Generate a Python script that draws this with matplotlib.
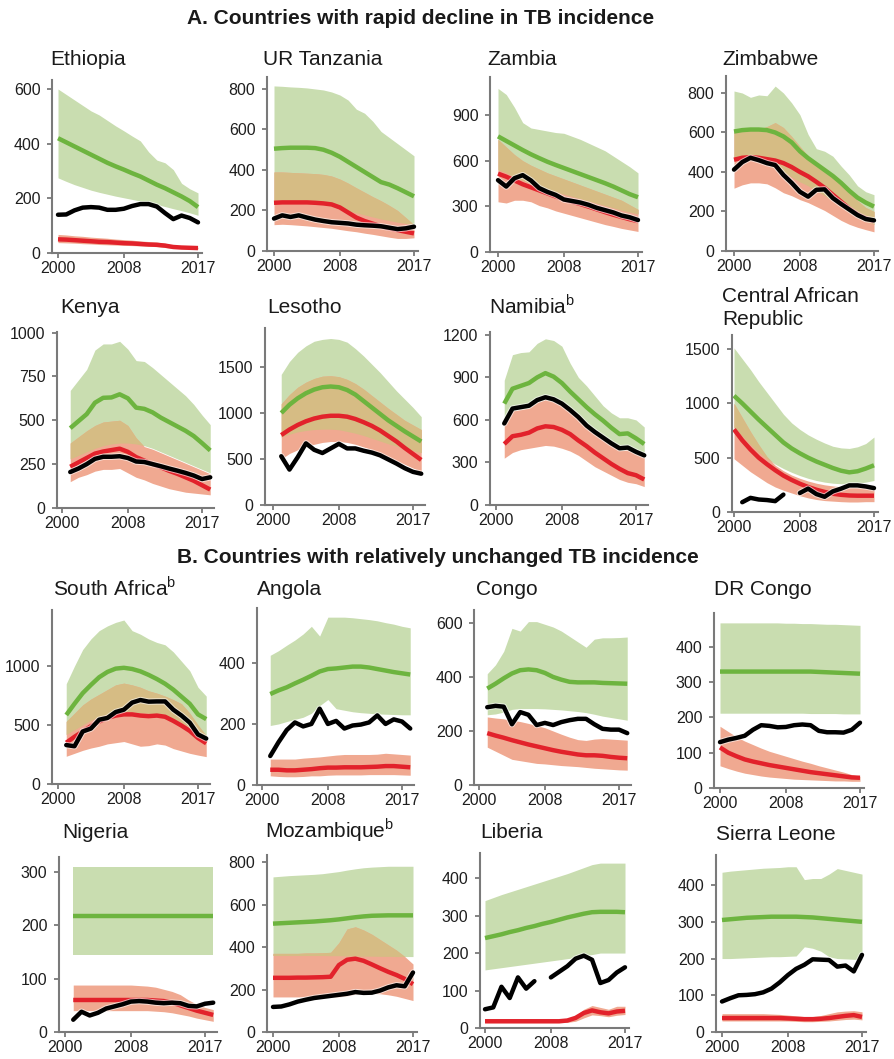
import numpy as np
import matplotlib
matplotlib.use('Agg')
from matplotlib import pyplot as plt
import matplotlib.patheffects as pe

plt.rcParams['font.family'] = ['Liberation Sans', 'DejaVu Sans']
plt.rcParams['mathtext.fontset'] = 'custom'
plt.rcParams['mathtext.rm'] = 'Liberation Sans'

nan = np.nan

# inc = WHO incidence estimate (green), est = alternative estimate (red), notif = notifications (black)
# values per 100 000, yearly

eth_inc = [420, 405, 390, 375, 360, 345, 330, 317, 305, 292, 280, 265, 250, 237, 222, 207, 190, 168]
eth_inc_lo = [275, 262, 250, 240, 230, 222, 215, 208, 202, 196, 190, 183, 177, 170, 162, 155, 147, 138]
eth_inc_hi = [600, 580, 560, 540, 520, 505, 485, 465, 447, 428, 410, 370, 340, 330, 305, 255, 235, 220]
eth_est = [50, 49, 47, 45, 43, 41, 40, 38, 36, 35, 33, 31, 30, 27, 22, 20, 19, 18]
eth_est_lo = [38, 37, 36, 34, 33, 31, 30, 29, 28, 27, 26, 25, 23, 20, 17, 16, 15, 15]
eth_est_hi = [68, 66, 63, 61, 58, 56, 54, 51, 49, 47, 44, 42, 40, 36, 28, 24, 22, 21]
eth_notif = [140, 141, 156, 166, 168, 166, 158, 158, 162, 172, 179, 179, 170, 146, 124, 137, 128, 112]

tza_inc = [505, 508, 510, 510, 510, 508, 500, 485, 465, 440, 415, 390, 365, 340, 328, 310, 290, 270]
tza_inc_lo = [250, 250, 248, 245, 240, 235, 228, 220, 210, 198, 188, 178, 168, 158, 150, 142, 136, 130]
tza_inc_hi = [815, 813, 810, 808, 805, 800, 795, 785, 770, 745, 700, 680, 640, 590, 560, 530, 500, 470]
tza_est = [238, 240, 240, 240, 240, 238, 235, 230, 215, 190, 165, 148, 135, 122, 112, 103, 95, 87]
tza_est_lo = [130, 132, 130, 127, 124, 120, 116, 112, 106, 100, 95, 88, 82, 75, 68, 62, 62, 65]
tza_est_hi = [390, 390, 388, 386, 384, 382, 378, 370, 355, 335, 312, 290, 268, 248, 225, 200, 165, 130]
tza_notif = [160, 176, 168, 176, 165, 155, 148, 142, 139, 136, 130, 127, 125, 122, 115, 108, 112, 120]

zmb_inc = [760, 730, 700, 670, 642, 617, 593, 572, 552, 532, 512, 492, 472, 452, 430, 405, 380, 360]
zmb_inc_lo = [540, 520, 490, 470, 450, 430, 410, 395, 380, 365, 350, 335, 320, 305, 290, 275, 262, 250]
zmb_inc_hi = [1075, 1035, 950, 850, 815, 805, 795, 785, 780, 760, 740, 715, 690, 665, 630, 595, 560, 520]
zmb_est = [515, 495, 470, 445, 425, 405, 385, 365, 345, 330, 315, 298, 280, 262, 245, 230, 215, 203]
zmb_est_lo = [330, 322, 340, 340, 330, 305, 290, 270, 255, 240, 225, 210, 195, 180, 168, 155, 145, 135]
zmb_est_hi = [740, 690, 640, 600, 570, 545, 520, 500, 480, 460, 440, 420, 400, 380, 360, 340, 310, 280]
zmb_notif = [472, 430, 485, 505, 470, 420, 395, 375, 345, 335, 325, 310, 290, 275, 260, 240, 228, 210]

zwe_inc = [605, 612, 615, 615, 612, 600, 580, 550, 505, 470, 440, 410, 380, 345, 305, 270, 245, 225]
zwe_inc_lo = [470, 480, 470, 460, 440, 420, 400, 375, 350, 330, 305, 280, 255, 225, 195, 170, 150, 135]
zwe_inc_hi = [810, 800, 778, 790, 786, 835, 800, 750, 690, 590, 518, 505, 480, 430, 385, 330, 300, 285]
zwe_est = [462, 472, 475, 472, 465, 458, 445, 425, 400, 378, 350, 320, 285, 250, 215, 185, 165, 150]
zwe_est_lo = [318, 335, 345, 345, 340, 320, 295, 280, 260, 245, 225, 205, 180, 155, 135, 120, 108, 97]
zwe_est_hi = [600, 605, 610, 615, 630, 650, 625, 580, 530, 480, 440, 405, 370, 335, 295, 255, 220, 200]
zwe_notif = [412, 450, 472, 460, 445, 435, 385, 345, 300, 275, 310, 312, 268, 238, 210, 182, 162, 155]

ken_inc = [455, 495, 535, 600, 628, 630, 648, 625, 572, 565, 545, 515, 490, 465, 440, 410, 370, 328]
ken_inc_lo = [280, 300, 320, 340, 355, 365, 370, 370, 365, 355, 340, 320, 300, 280, 260, 240, 220, 200]
ken_inc_hi = [670, 730, 790, 900, 935, 935, 950, 905, 840, 835, 800, 760, 720, 680, 640, 590, 530, 475]
ken_est = [235, 260, 285, 310, 322, 330, 338, 320, 290, 270, 250, 232, 212, 195, 175, 155, 130, 105]
ken_est_lo = [150, 175, 190, 210, 220, 220, 225, 200, 175, 160, 140, 125, 110, 100, 90, 85, 80, 75]
ken_est_hi = [370, 405, 440, 470, 490, 495, 500, 470, 400, 350, 335, 315, 295, 275, 255, 235, 215, 195]
ken_notif = [205, 225, 250, 280, 292, 292, 295, 285, 265, 262, 250, 238, 225, 213, 200, 185, 165, 175]

lso_inc = [1000, 1090, 1160, 1215, 1255, 1280, 1288, 1280, 1250, 1200, 1130, 1060, 990, 920, 860, 800, 745, 690]
lso_inc_lo = [740, 770, 795, 810, 820, 825, 825, 818, 800, 780, 755, 725, 695, 665, 640, 615, 590, 570]
lso_inc_hi = [1420, 1560, 1660, 1730, 1780, 1800, 1810, 1800, 1770, 1700, 1620, 1530, 1440, 1340, 1240, 1150, 1060, 960]
lso_est = [760, 820, 870, 910, 940, 960, 970, 970, 960, 935, 900, 860, 810, 750, 690, 620, 555, 490]
lso_est_lo = [500, 560, 600, 640, 660, 680, 690, 690, 680, 660, 630, 600, 560, 520, 480, 440, 400, 360]
lso_est_hi = [1100, 1200, 1280, 1335, 1375, 1400, 1405, 1395, 1365, 1320, 1260, 1190, 1120, 1050, 985, 920, 870, 820]
lso_notif = [530, 385, 520, 670, 600, 565, 615, 665, 615, 615, 590, 570, 540, 495, 450, 400, 360, 340]

nam_inc = [715, 820, 840, 860, 900, 930, 905, 860, 800, 745, 690, 640, 595, 545, 500, 505, 470, 430]
nam_inc_lo = [560, 665, 675, 685, 725, 745, 730, 700, 655, 605, 545, 500, 460, 420, 385, 390, 360, 335]
nam_inc_hi = [880, 1060, 1075, 1080, 1140, 1172, 1160, 1120, 1000, 900, 840, 770, 700, 650, 615, 615, 600, 550]
nam_est = [430, 485, 495, 510, 540, 555, 550, 530, 500, 455, 415, 370, 330, 290, 255, 225, 210, 180]
nam_est_lo = [330, 370, 390, 400, 410, 420, 415, 400, 380, 350, 310, 270, 240, 210, 180, 160, 150, 130]
nam_est_hi = [560, 665, 675, 685, 725, 745, 730, 700, 655, 605, 545, 500, 460, 420, 385, 390, 360, 335]
nam_notif = [575, 680, 690, 700, 740, 760, 745, 715, 670, 620, 560, 515, 475, 435, 400, 405, 375, 350]

caf_inc = [1070, 1000, 925, 850, 780, 710, 640, 585, 540, 500, 465, 435, 405, 380, 365, 375, 400, 430]
caf_inc_lo = [780, 700, 620, 550, 490, 440, 400, 365, 335, 310, 290, 275, 265, 260, 262, 265, 275, 290]
caf_inc_hi = [1510, 1410, 1310, 1200, 1100, 1000, 900, 820, 760, 710, 670, 635, 605, 590, 585, 600, 630, 690]
caf_est = [760, 660, 575, 500, 440, 385, 335, 295, 260, 230, 205, 185, 168, 158, 152, 150, 150, 150]
caf_est_lo = [490, 430, 370, 320, 270, 230, 200, 175, 150, 130, 115, 105, 100, 95, 92, 92, 95, 95]
caf_est_hi = [1000, 870, 740, 620, 510, 430, 380, 340, 310, 285, 265, 250, 240, 232, 228, 228, 230, 232]
caf_notif = [nan, 90, 130, 115, 110, 100, 160, nan, 175, 215, 165, 140, 190, 215, 245, 245, 235, 220]

zaf_inc = [585, 680, 770, 840, 905, 950, 978, 985, 975, 955, 925, 890, 850, 800, 740, 680, 590, 550]
zaf_inc_lo = [420, 460, 500, 540, 570, 590, 600, 610, 610, 605, 600, 590, 575, 550, 520, 480, 430, 400]
zaf_inc_hi = [850, 1000, 1140, 1230, 1300, 1340, 1370, 1390, 1300, 1270, 1230, 1200, 1180, 1120, 1040, 960, 820, 745]
zaf_est = [350, 400, 445, 490, 530, 560, 580, 590, 590, 580, 575, 580, 570, 535, 495, 450, 390, 345]
zaf_est_lo = [235, 260, 285, 305, 320, 340, 350, 360, 340, 320, 325, 340, 330, 300, 280, 260, 245, 232]
zaf_est_hi = [530, 600, 670, 720, 760, 800, 840, 855, 840, 820, 790, 770, 745, 715, 680, 600, 500, 410]
zaf_notif = [330, 320, 445, 470, 545, 560, 610, 630, 690, 712, 698, 700, 700, 630, 580, 520, 420, 385]

ago_inc = [298, 310, 320, 333, 345, 358, 372, 380, 382, 385, 388, 388, 385, 380, 375, 370, 366, 362]
ago_inc_lo = [195, 200, 208, 215, 222, 235, 260, 280, 250, 245, 240, 237, 235, 233, 232, 231, 230, 230]
ago_inc_hi = [425, 440, 458, 475, 495, 520, 488, 550, 550, 550, 548, 545, 542, 538, 532, 527, 520, 515]
ago_est = [50, 50, 48, 48, 50, 52, 55, 57, 57, 58, 58, 58, 59, 60, 62, 62, 60, 58]
ago_est_lo = [30, 28, 27, 27, 28, 30, 30, 32, 33, 33, 33, 33, 34, 34, 34, 34, 33, 32]
ago_est_hi = [85, 85, 85, 85, 88, 90, 92, 95, 98, 100, 100, 100, 100, 101, 104, 102, 100, 98]
ago_notif = [95, 140, 180, 205, 192, 200, 250, 200, 210, 185, 195, 198, 205, 228, 200, 215, 208, 185]

cog_inc = [357, 375, 395, 413, 425, 428, 425, 415, 400, 390, 382, 380, 380, 380, 378, 377, 376, 375]
cog_inc_lo = [260, 263, 270, 280, 283, 283, 283, 282, 280, 278, 275, 272, 268, 262, 255, 250, 245, 240]
cog_inc_hi = [412, 445, 495, 580, 570, 605, 605, 595, 585, 570, 550, 530, 510, 540, 545, 545, 546, 548]
cog_est = [192, 183, 175, 166, 158, 150, 143, 136, 129, 123, 118, 113, 110, 110, 108, 104, 101, 99]
cog_est_lo = [140, 125, 110, 95, 90, 85, 80, 78, 75, 72, 70, 68, 65, 62, 60, 58, 56, 55]
cog_est_hi = [252, 248, 245, 240, 235, 228, 220, 212, 200, 188, 177, 168, 165, 170, 172, 170, 168, 166]
cog_notif = [288, 293, 290, 225, 270, 260, 222, 230, 222, 233, 240, 245, 245, 225, 208, 205, 205, 192]

cod_inc = [330, 330, 330, 330, 330, 330, 330, 330, 330, 330, 330, 330, 329, 328, 327, 326, 325, 324]
cod_inc_lo = [212, 212, 212, 212, 212, 212, 212, 212, 212, 212, 212, 211, 211, 211, 211, 210, 210, 210]
cod_inc_hi = [468, 468, 468, 468, 468, 468, 468, 468, 467, 467, 466, 466, 465, 464, 464, 463, 462, 461]
cod_est = [115, 100, 90, 81, 75, 70, 65, 61, 57, 53, 49, 45, 42, 39, 36, 33, 30, 29]
cod_est_lo = [63, 55, 48, 42, 38, 34, 31, 29, 27, 25, 24, 23, 22, 21, 20, 20, 19, 19]
cod_est_hi = [175, 160, 145, 133, 123, 113, 104, 97, 90, 83, 76, 70, 63, 57, 51, 45, 38, 33]
cod_notif = [130, 137, 142, 148, 165, 178, 176, 172, 173, 178, 180, 178, 162, 158, 158, 157, 165, 185]

nga_inc = [218, 218, 218, 218, 218, 218, 218, 218, 218, 218, 218, 218, 218, 218, 218, 218, 218, 218]
nga_inc_lo = [145, 145, 145, 145, 145, 145, 145, 145, 145, 145, 145, 145, 145, 145, 145, 145, 145, 145]
nga_inc_hi = [310, 310, 310, 310, 310, 310, 310, 310, 310, 310, 310, 310, 310, 310, 310, 310, 310, 310]
nga_est = [60, 60, 60, 60, 60, 60, 60, 60, 60, 60, 59, 58, 55, 50, 45, 40, 36, 32]
nga_est_lo = [40, 40, 40, 40, 40, 40, 40, 40, 40, 40, 39, 38, 36, 33, 30, 26, 23, 20]
nga_est_hi = [88, 88, 88, 88, 88, 88, 88, 88, 87, 86, 84, 80, 76, 70, 60, 52, 46, 42]
nga_notif = [23, 38, 31, 36, 44, 48, 52, 57, 58, 57, 55, 54, 55, 54, 49, 48, 53, 55]

moz_inc = [510, 512, 514, 516, 518, 520, 523, 526, 530, 535, 540, 544, 547, 548, 549, 549, 549, 549]
moz_inc_lo = [360, 360, 360, 360, 360, 360, 360, 359, 359, 358, 358, 357, 357, 356, 356, 355, 355, 355]
moz_inc_hi = [730, 733, 736, 738, 740, 742, 745, 750, 755, 762, 768, 773, 776, 778, 780, 780, 780, 780]
moz_est = [255, 255, 255, 256, 256, 257, 258, 260, 315, 340, 345, 335, 318, 300, 283, 268, 250, 225]
moz_est_lo = [165, 165, 165, 165, 165, 165, 165, 165, 165, 170, 178, 182, 182, 180, 175, 168, 158, 148]
moz_est_hi = [370, 370, 370, 370, 372, 372, 373, 375, 420, 485, 495, 480, 460, 435, 410, 385, 355, 320]
moz_notif = [118, 120, 130, 143, 152, 160, 165, 170, 175, 180, 188, 184, 185, 195, 210, 220, 215, 280]

lbr_inc = [240, 245, 250, 256, 261, 267, 272, 278, 283, 289, 295, 300, 305, 309, 310, 310, 310, 309]
lbr_inc_lo = [155, 158, 161, 164, 167, 170, 173, 176, 179, 182, 185, 188, 192, 196, 200, 200, 200, 200]
lbr_inc_hi = [340, 348, 356, 363, 370, 377, 384, 391, 398, 405, 412, 420, 428, 436, 440, 440, 440, 440]
lbr_est = [18, 18, 18, 18, 18, 18, 18, 18, 18, 18, 20, 27, 40, 47, 42, 39, 44, 46]
lbr_est_lo = [14, 14, 14, 14, 14, 14, 14, 14, 14, 14, 15, 18, 27, 35, 33, 30, 34, 36]
lbr_est_hi = [22, 22, 22, 22, 22, 22, 22, 22, 22, 22, 24, 33, 50, 60, 55, 50, 58, 58]
lbr_notif = [50, 55, 110, 80, 135, 105, 125, nan, 135, 150, 165, 185, 193, 182, 120, 128, 148, 162]

sle_inc = [305, 307, 309, 311, 312, 313, 314, 314, 314, 314, 313, 312, 310, 308, 306, 304, 302, 300]
sle_inc_lo = [200, 200, 201, 202, 203, 204, 205, 205, 206, 207, 232, 228, 220, 205, 200, 199, 198, 197]
sle_inc_hi = [435, 438, 440, 442, 444, 446, 447, 448, 450, 450, 415, 418, 418, 430, 445, 440, 435, 430]
sle_est = [38, 38, 38, 38, 38, 38, 38, 38, 37, 36, 35, 35, 36, 38, 41, 44, 46, 41]
sle_est_lo = [30, 30, 30, 30, 30, 30, 30, 30, 30, 29, 28, 28, 29, 30, 32, 34, 35, 33]
sle_est_hi = [50, 50, 50, 50, 50, 50, 49, 48, 46, 44, 42, 42, 45, 50, 55, 57, 58, 55]
sle_notif = [83, 92, 100, 101, 103, 108, 118, 135, 155, 172, 183, 198, 197, 196, 178, 181, 165, 210]

titles = ['Ethiopia', 'UR Tanzania', 'Zambia', 'Zimbabwe',
          'Kenya', 'Lesotho', 'Namibia$^{\\rm b}$', 'Central African\nRepublic',
          'South Africa$^{\\rm b}$', 'Angola', 'Congo', 'DR Congo',
          'Nigeria', 'Mozambique$^{\\rm b}$', 'Liberia', 'Sierra Leone']
first_year = [2000, 2000, 2000, 2000,
              2001, 2001, 2001, 2000,
              2001, 2001, 2001, 2000,
              2001, 2000, 2000, 2000]
yticks = [[0, 200, 400, 600], [0, 200, 400, 600, 800], [0, 300, 600, 900], [0, 200, 400, 600, 800],
          [0, 250, 500, 750, 1000], [0, 500, 1000, 1500], [0, 300, 600, 900, 1200], [0, 500, 1000, 1500],
          [0, 500, 1000], [0, 200, 400], [0, 200, 400, 600], [0, 100, 200, 300, 400],
          [0, 100, 200, 300], [0, 200, 400, 600, 800], [0, 100, 200, 300, 400], [0, 100, 200, 300, 400]]
ymax = [633, 859, 1150, 886,
        1003, 1924, 1220, 1629,
        1475, 580, 648, 496,
        328, 833, 467, 482]

series = [
    (eth_inc, eth_inc_lo, eth_inc_hi, eth_est, eth_est_lo, eth_est_hi, eth_notif),
    (tza_inc, tza_inc_lo, tza_inc_hi, tza_est, tza_est_lo, tza_est_hi, tza_notif),
    (zmb_inc, zmb_inc_lo, zmb_inc_hi, zmb_est, zmb_est_lo, zmb_est_hi, zmb_notif),
    (zwe_inc, zwe_inc_lo, zwe_inc_hi, zwe_est, zwe_est_lo, zwe_est_hi, zwe_notif),
    (ken_inc, ken_inc_lo, ken_inc_hi, ken_est, ken_est_lo, ken_est_hi, ken_notif),
    (lso_inc, lso_inc_lo, lso_inc_hi, lso_est, lso_est_lo, lso_est_hi, lso_notif),
    (nam_inc, nam_inc_lo, nam_inc_hi, nam_est, nam_est_lo, nam_est_hi, nam_notif),
    (caf_inc, caf_inc_lo, caf_inc_hi, caf_est, caf_est_lo, caf_est_hi, caf_notif),
    (zaf_inc, zaf_inc_lo, zaf_inc_hi, zaf_est, zaf_est_lo, zaf_est_hi, zaf_notif),
    (ago_inc, ago_inc_lo, ago_inc_hi, ago_est, ago_est_lo, ago_est_hi, ago_notif),
    (cog_inc, cog_inc_lo, cog_inc_hi, cog_est, cog_est_lo, cog_est_hi, cog_notif),
    (cod_inc, cod_inc_lo, cod_inc_hi, cod_est, cod_est_lo, cod_est_hi, cod_notif),
    (nga_inc, nga_inc_lo, nga_inc_hi, nga_est, nga_est_lo, nga_est_hi, nga_notif),
    (moz_inc, moz_inc_lo, moz_inc_hi, moz_est, moz_est_lo, moz_est_hi, moz_notif),
    (lbr_inc, lbr_inc_lo, lbr_inc_hi, lbr_est, lbr_est_lo, lbr_est_hi, lbr_notif),
    (sle_inc, sle_inc_lo, sle_inc_hi, sle_est, sle_est_lo, sle_est_hi, sle_notif),
]

# panel placement in pixels: spine x, x of 2000 tick, y of zero line, y of axis top, title x, title baseline
boxes = [
    (52, 58, 253, 80, 50, 65), (267, 274, 251, 77, 263, 65), (490, 498, 252, 77, 487, 65), (726, 734, 251, 76, 722, 65),
    (57, 62, 508, 332, 60, 313), (265, 273, 505, 328, 267, 313), (490, 496, 505, 332, 489, 313), (732, 734, 512, 335, 722, 302),
    (52, 58, 784, 610, 53, 595), (257, 262, 785, 608, 257, 595), (474, 479, 785, 610, 476, 595), (714, 720, 788, 613, 714, 595),
    (59, 65, 1032, 857, 62, 838), (267, 273, 1032, 855, 265, 837), (480, 485, 1028, 853, 480, 838), (716, 722, 1032, 855, 716, 840),
]

GREEN_BAND = '#c9ddb0'
RED_BAND = '#f0a991'
TAN = '#d6bc84'
GREEN = '#6db43f'
RED = '#e2222b'
AXIS = '#7a7a7a'

W, H = 894, 1059
PPY = 140 / 17  # pixels per year

fig = plt.figure(figsize=(W / 100, H / 100), dpi=100)

for i in range(16):
    sx, t0, y0, yt, tx, tb = boxes[i]
    inc, inc_lo, inc_hi, est, est_lo, est_hi, notif = [np.array(s, dtype=float) for s in series[i]]
    yrs = np.arange(first_year[i], first_year[i] + len(inc))
    xmin = 2000 - (t0 - sx) / PPY
    xmax = yrs[-1] + 0.5
    ax = fig.add_axes([sx / W, 1 - y0 / H, (xmax - xmin) * PPY / W, (y0 - yt) / H])
    ax.patch.set_alpha(0)

    ax.fill_between(yrs, inc_lo, inc_hi, color=GREEN_BAND, lw=0)
    ax.fill_between(yrs, est_lo, est_hi, color=RED_BAND, lw=0)
    lo = np.maximum(inc_lo, est_lo)
    hi = np.minimum(inc_hi, est_hi)
    ax.fill_between(yrs, lo, hi, where=hi > lo, interpolate=True, color=TAN, lw=0)

    ax.plot(yrs, inc, color=GREEN, lw=3.2, solid_capstyle='butt')
    ax.plot(yrs, est, color=RED, lw=3.2, solid_capstyle='butt')
    ax.plot(yrs, notif, color='black', lw=3.2, solid_capstyle='round',
            path_effects=[pe.Stroke(linewidth=4.6, foreground='white', alpha=0.6), pe.Normal()])

    ax.set_xlim(xmin, xmax)
    ax.set_ylim(0, ymax[i])
    ax.set_xticks([2000, 2008, 2017])
    ax.set_yticks(yticks[i])
    for s in ['top', 'right']:
        ax.spines[s].set_visible(False)
    for s in ['left', 'bottom']:
        ax.spines[s].set_color(AXIS)
        ax.spines[s].set_linewidth(1.5)
    ax.tick_params(direction='out', length=3.8, width=1.3, color=AXIS, labelsize=11.5, labelcolor='#1e1e1e')
    ax.tick_params(axis='y', pad=4.5)
    ax.tick_params(axis='x', pad=2)

    for k, line in enumerate(titles[i].split('\n')):
        fig.text(tx / W, 1 - (tb + 23 * k) / H, line, fontsize=15, va='baseline', ha='left', color='#1a1a1a')

fig.text(421 / W, 1 - 24 / H, 'A. Countries with rapid decline in TB incidence',
         fontsize=15, fontweight='bold', ha='center', va='baseline', color='#1a1a1a')
fig.text(438 / W, 1 - 563 / H, 'B. Countries with relatively unchanged TB incidence',
         fontsize=15, fontweight='bold', ha='center', va='baseline', color='#1a1a1a')

fig.savefig('out.png', dpi=100)
